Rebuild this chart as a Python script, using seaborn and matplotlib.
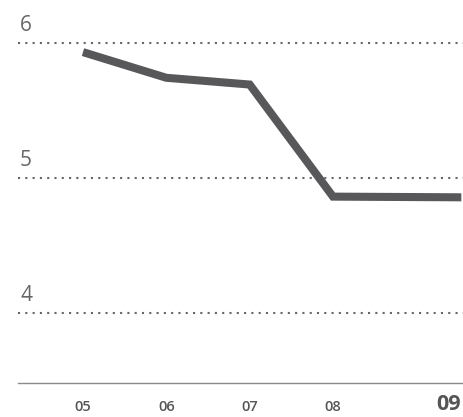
import matplotlib
matplotlib.use("Agg")
import matplotlib.pyplot as plt
import matplotlib.transforms as mtransforms
import seaborn as sns
import pandas as pd

# Data
years = ["05", "06", "07", "08", "09"]
xpos = [0, 1, 2, 3, 4.54]
values = [5.93, 5.74, 5.69, 4.86, 4.855]
yticks = [4, 5, 6]

df = pd.DataFrame({"x": xpos, "value": values})

sns.set_theme(style="white")
plt.rcParams["font.family"] = ["Open Sans", "DejaVu Sans"]

fig = plt.figure(figsize=(4.63, 4.17), dpi=100)
ax = fig.add_axes([18 / 463, 1 - 383 / 417, 445 / 463, 383 / 417])

sns.lineplot(data=df, x="x", y="value", ax=ax, color="#58585a", linewidth=5.8,
             solid_capstyle="butt", solid_joinstyle="miter", clip_on=False)

ax.set_xlim(-0.78, 4.56)
ax.set_ylim(3.48, 6.316)

for v in yticks:
    ax.axhline(v, color="#666666", linestyle=(0, (1, 2.5)), linewidth=1.5, zorder=0)
    ax.annotate(str(v), xy=(0, v), xycoords=("axes fraction", "data"),
                xytext=(1.5, 5), textcoords="offset points",
                ha="left", va="bottom", fontsize=15, color="#666666",
                fontweight="normal")

for s in ["top", "right", "left"]:
    ax.spines[s].set_visible(False)
ax.spines["bottom"].set_color("#8a8a8a")
ax.spines["bottom"].set_linewidth(1.0)

ax.set_yticks([])
ax.set_xticks(xpos)
ax.set_xticklabels(years)
ax.tick_params(axis="x", length=0, pad=17.5, colors="#555555")
ax.set_xlabel("")
ax.set_ylabel("")
labels = ax.get_xticklabels()
for lab in labels[:-1]:
    lab.set_fontsize(10.5)
    lab.set_fontweight("semibold")
    lab.set_va("center")
last = labels[-1]
last.set_fontsize(15.5)
last.set_fontweight("bold")
last.set_ha("right")
last.set_va("center")
last.set_transform(last.get_transform() + mtransforms.ScaledTranslation(0, 3 / 100, fig.dpi_scale_trans))

fig.savefig("out.png", dpi=100)
